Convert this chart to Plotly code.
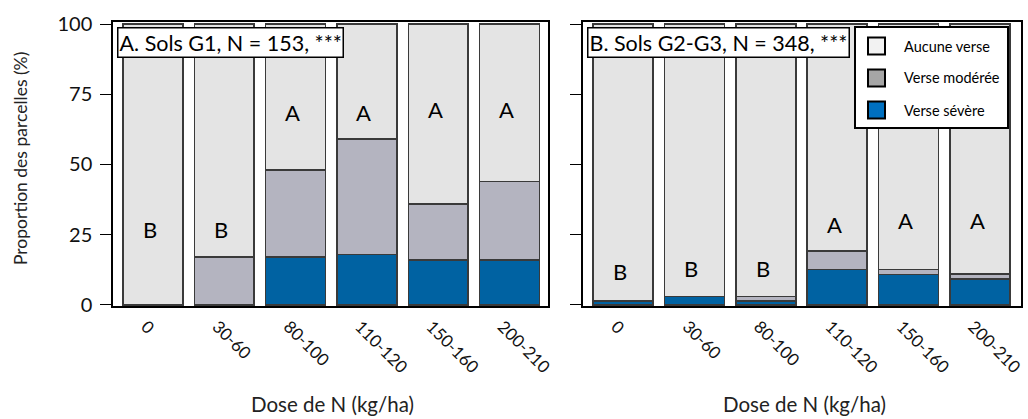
import plotly.graph_objects as go

W, H = 1028, 419

# ---- data ----
doses = ["0", "30-60", "80-100", "110-120", "150-160", "200-210"]

g1_severe = [0, 0, 17, 18, 16, 16]
g1_moderate = [0, 17, 31, 41, 20, 28]
g1_none = [100, 83, 52, 41, 64, 56]
g1_letters = ["B", "B", "A", "A", "A", "A"]
g1_letter_y = [27, 27, 68.5, 68.5, 69.5, 69.5]

g23_severe = [1.5, 3, 1.5, 12.7, 10.9, 9.3]
g23_moderate = [0, 0, 1.6, 6.5, 1.8, 1.7]
g23_none = [98.5, 97, 96.9, 80.8, 87.3, 89]
g23_letters = ["B", "B", "B", "A", "A", "A"]
g23_letter_y = [12, 13, 13, 28.5, 30, 30]

series_names = ["Verse sévère", "Verse modérée", "Aucune verse"]
bar_colors = ["#0062a2", "#b4b4c0", "#e4e4e4"]
legend_colors = ["#0070c0", "#a6a6a6", "#f2f2f2"]
panel_titles = ["A. Sols G1, N = 153, ***", "B. Sols G2-G3, N = 348, ***"]
y_ticks = [0, 25, 50, 75, 100]
x_title = "Dose de N (kg/ha)"
y_title = "Proportion des parcelles (%)"

FONT = "Lato"


def fx(px):
    return px / W


def fy(py):
    return 1 - py / H


fig = go.Figure()
panels = [
    ("x", "y", [g1_severe, g1_moderate, g1_none]),
    ("x2", "y2", [g23_severe, g23_moderate, g23_none]),
]
for xa, ya, vals in panels:
    for name, col, v in zip(series_names, bar_colors, vals):
        fig.add_trace(go.Bar(
            x=doses, y=v, name=name, xaxis=xa, yaxis=ya,
            marker=dict(color=col, line=dict(color="#3a3a3a", width=1.5)),
            width=0.84, showlegend=False,
        ))

yrange = [-0.36, 100.71]
ydom = [fy(306), fy(22)]
common_x = dict(
    type="category", showline=True, linecolor="black", linewidth=2, mirror=True,
    ticks="", tickangle=45, showgrid=False, zeroline=False, automargin=False,
    ticklabelshift=-7, ticklabelstandoff=2,
    tickfont=dict(family=FONT, size=17, color="#111"),
)
common_y = dict(
    range=yrange, domain=ydom, showline=True, linecolor="black", linewidth=1.5,
    mirror=True, ticks="outside", ticklen=11, tickwidth=1.2, tickcolor="black",
    tickvals=y_ticks, showgrid=False, zeroline=False, automargin=False,
    tickfont=dict(family=FONT, size=20, color="#111"),
)
fig.update_layout(
    width=W, height=H,
    margin=dict(l=0, r=0, t=0, b=0, autoexpand=False),
    paper_bgcolor="white", plot_bgcolor="white",
    barmode="stack", bargap=0.16,
    showlegend=False,
    xaxis=dict(common_x, domain=[fx(113), fx(548)], range=[-0.561, 5.54], anchor="y"),
    xaxis2=dict(common_x, domain=[fx(583), fx(1021)], range=[-0.56, 5.574], anchor="y2"),
    yaxis=dict(common_y, anchor="x", ticklabelstandoff=4),
    yaxis2=dict(common_y, anchor="x2", showticklabels=False),
)

annotations = []
# significance letters
for xref, yref, letters, ys in [("x", "y", g1_letters, g1_letter_y),
                                 ("x2", "y2", g23_letters, g23_letter_y)]:
    for d, l, yv in zip(doses, letters, ys):
        annotations.append(dict(
            x=d, y=yv, xref=xref, yref=yref, text=l, showarrow=False,
            xanchor="center", yanchor="middle",
            xshift=-3, font=dict(family=FONT, size=22, color="black"),
        ))

# panel titles
for t, x0 in zip(panel_titles, [117, 587]):
    annotations.append(dict(
        x=fx(x0), y=fy(27), xref="paper", yref="paper", xanchor="left", yanchor="top",
        text=t, showarrow=False, bgcolor="white", bordercolor="black", borderwidth=1.5,
        borderpad=1, font=dict(family=FONT, size=21.5, color="black"),
    ))

# axis titles
for cx in [332, 804]:
    annotations.append(dict(
        x=fx(cx), y=fy(404), xref="paper", yref="paper", text=x_title, showarrow=False,
        xanchor="center", yanchor="middle",
        font=dict(family=FONT, size=20.5, color="#222"),
    ))
annotations.append(dict(
    x=fx(20), y=fy(159), xref="paper", yref="paper", text=y_title, showarrow=False,
    xanchor="center", yanchor="middle",
    textangle=-90, font=dict(family=FONT, size=17.5, color="#222"),
))

# legend (drawn manually)
shapes = [dict(type="rect", xref="paper", yref="paper",
               x0=fx(855), x1=fx(1008), y0=fy(128), y1=fy(27),
               line=dict(color="black", width=2), fillcolor="white")]
for i, (name, col) in enumerate(zip(series_names[::-1], legend_colors[::-1])):
    cy = [46, 78, 110][i]
    shapes.append(dict(type="rect", xref="paper", yref="paper",
                       x0=fx(868), x1=fx(885), y0=fy(cy + 8.5), y1=fy(cy - 8.5),
                       line=dict(color="black", width=2), fillcolor=col))
    annotations.append(dict(
        x=fx(902), y=fy(cy), xref="paper", yref="paper", xanchor="left", yanchor="middle",
        text=name, showarrow=False, font=dict(family=FONT, size=14.5, color="black"),
    ))

fig.update_layout(annotations=annotations, shapes=shapes)
fig.write_html("out.html")
